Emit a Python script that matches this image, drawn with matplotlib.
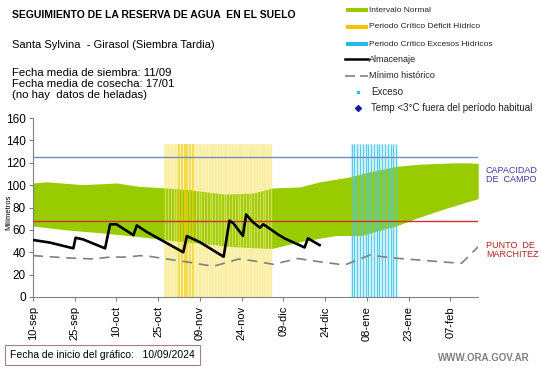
import numpy as np
import matplotlib
matplotlib.use("Agg")
import matplotlib.pyplot as plt
from matplotlib.patches import Rectangle
from matplotlib.lines import Line2D

plt.rcParams['font.family'] = ['Liberation Sans', 'DejaVu Sans']

# days since 10/09/2024
band_days = [0, 5, 18, 30, 38, 48, 56, 69, 79, 86, 96, 103, 114, 121, 131, 139, 151, 157, 160]
band_hi = [102, 103, 100.5, 102, 99, 97.5, 96, 92, 93, 97.5, 98.5, 103, 107.5, 112, 117, 118.8, 120, 120, 119.5]
low_days = [0, 12, 24, 38, 48, 60, 72, 84, 86, 97, 109, 118, 125, 131, 139, 148, 160]
band_lo = [63.5, 60, 57.5, 54, 51, 48, 45, 43.5, 43.5, 50, 55, 55, 60, 64, 71.5, 79, 88]

alm_days = [0, 6, 14.5, 15.3, 18, 25.9, 27.7, 30, 36.1, 37.3, 41, 54, 55.3, 60, 68.5, 70.6, 72, 75.4, 76.6, 79, 81.5, 82.8, 86, 88, 90.4, 97.6, 98.8, 103]
alm_vals = [51, 48.7, 43.5, 53, 51.5, 43.5, 65, 65, 55.3, 64, 58, 40, 54.5, 49, 36, 68.3, 66, 54.7, 73.8, 67, 62, 65, 59.5, 56, 52.4, 44.3, 52.4, 46.4]

min_days = [0, 12, 21.6, 27.7, 34, 38.5, 42, 48, 55, 64.8, 74, 79, 86.4, 95, 103, 112, 121, 129, 139, 150, 154, 160]
min_vals = [37, 35, 34, 35.7, 35.7, 37, 36.3, 34, 31.5, 27.4, 34, 32.4, 29.2, 34.4, 31.5, 28.6, 37.5, 35, 33, 30.8, 30.2, 45]

tick_days = [0, 15, 30, 45, 60, 75, 90, 105, 120, 135, 150]
tick_labels = ['10-sep', '25-sep', '10-oct', '25-oct', '09-nov', '24-nov', '09-dic', '24-dic', '08-ene', '23-ene', '07-feb']

deficit_start, deficit_end = 47, 86
deficit_peak = (52, 57.5)
exceso_start, exceso_end = 114, 131
capacidad_campo = 125
punto_marchitez = 68

fig = plt.figure(figsize=(5.41, 3.68), dpi=100)
ax = fig.add_axes([0.061, 0.193, 0.823, 0.486])

# green normal interval
grid = np.arange(0, 160.5, 0.5)
hi = np.interp(grid, band_days, band_hi)
lo = np.interp(grid, low_days, band_lo)
ax.fill_between(grid, lo, hi, color='#99cc00', lw=0, zorder=1)

# critical periods: pale background behind the band, stripes over it
ax.axvspan(deficit_start, deficit_end, ymax=137 / 160, color='#fbf3b8', lw=0, zorder=0.5)
for d in np.arange(deficit_start, deficit_end, 1.0):
    if deficit_peak[0] <= d <= deficit_peak[1]:
        ax.vlines(d + 0.5, 0, 137, color='#f0d020', lw=1.3, alpha=0.75, zorder=2)
    else:
        ax.vlines(d + 0.5, 0, 137, color='#f8ea90', lw=1.0, alpha=0.6, zorder=2)
ax.axvspan(exceso_start, exceso_end, ymax=137 / 160, color='#e0f7fc', lw=0, zorder=0.5)
for d in np.arange(exceso_start, exceso_end, 1.0):
    ax.vlines(d + 0.5, 0, 137, color='#4cc8ea', lw=0.9, alpha=0.9, zorder=2)

ax.axhline(capacidad_campo, color='#7090c0', lw=1.0, zorder=3)
ax.axhline(punto_marchitez, color='#d03030', lw=1.0, zorder=3)

ax.plot(alm_days, alm_vals, color='black', lw=1.9, zorder=5)
ax.plot(min_days, min_vals, color='#808080', lw=1.2, dashes=(6, 4), zorder=4)

ax.set_xlim(0, 160)
ax.set_ylim(0, 160)
ax.set_yticks(range(0, 161, 20))
ax.set_xticks(tick_days)
ax.set_xticklabels(tick_labels, rotation=90, fontsize=8)
ax.tick_params(axis='y', labelsize=8.5, length=3, color='#808080', pad=2)
ax.tick_params(axis='x', length=3, color='#808080')
for s in ['top', 'right']:
    ax.spines[s].set_visible(False)
for s in ['left', 'bottom']:
    ax.spines[s].set_color('#808080')
fig.text(9 / 541, 1 - 212 / 368, 'Milímetros', fontsize=5.5, rotation=90,
         va='center', ha='center')

fig.text(486 / 541, 1 - 175 / 368, 'CAPACIDAD\nDE  CAMPO', color='#3a3a9a', fontsize=6.5,
         va='center', ha='left', linespacing=1.1)
fig.text(486 / 541, 1 - 250 / 368, 'PUNTO  DE\nMARCHITEZ', color='#b02020', fontsize=6.5,
         va='center', ha='left', linespacing=1.1)

# header texts
fig.text(12 / 541, 1 - 15 / 368, 'SEGUIMIENTO DE LA RESERVA DE AGUA  EN EL SUELO',
         fontsize=7.5, fontweight='bold', va='center', ha='left')
fig.text(12 / 541, 1 - 45 / 368, 'Santa Sylvina  - Girasol (Siembra Tardia)', fontsize=8,
         va='center', ha='left')
fig.text(12 / 541, 1 - 84 / 368,
         'Fecha media de siembra: 11/09\nFecha media de cosecha: 17/01\n(no hay  datos de heladas)',
         fontsize=8.2, va='center', ha='left', linespacing=1.15)

# legend drawn in figure coords
leg = [
    ('patch', '#99cc00', 'Intervalo Normal', 10, 6),
    ('patch', '#f5c400', 'Periodo Crítico Déficit Hídrico', 27, 6),
    ('patch', '#22bbee', 'Periodo Crítico Excesos Hídricos', 44, 6),
    ('line', 'black', 'Almacenaje', 59, 6.5),
    ('dash', '#808080', 'Mínimo histórico', 76, 6.5),
    ('dot', '#33bbdd', 'Exceso', 92, 7),
    ('diamond', '#1a1aa0', 'Temp <3°C fuera del período habitual', 108, 7),
]
for kind, col, label, ypx, fs in leg:
    yf = 1 - ypx / 368
    tx = 369
    if kind == 'patch':
        fig.patches.append(Rectangle((346 / 541, yf - 2 / 368), 22 / 541, 4 / 368,
                                     transform=fig.transFigure, color=col, lw=0))
    elif kind == 'line':
        fig.lines.append(Line2D([345 / 541, 368 / 541], [yf, yf], transform=fig.transFigure,
                                color=col, lw=1.8))
    elif kind == 'dash':
        fig.lines.append(Line2D([345 / 541, 368 / 541], [yf, yf], transform=fig.transFigure,
                                color=col, lw=1.2, dashes=(6, 3)))
    elif kind == 'dot':
        fig.lines.append(Line2D([358 / 541], [yf], transform=fig.transFigure, marker='s',
                                ms=2, color=col, lw=0))
        tx = 371
    else:
        fig.lines.append(Line2D([358 / 541], [yf], transform=fig.transFigure, marker='D',
                                ms=3, color=col, lw=0))
        tx = 371
    fig.text(tx / 541, yf, label, fontsize=fs, va='center', ha='left', color='#222222')

# footer
fig.text(10 / 541, 1 - 355 / 368, 'Fecha de inicio del gráfico:   10/09/2024', fontsize=7.5,
         va='center', ha='left',
         bbox=dict(boxstyle='square,pad=0.5', fc='white', ec='#a08080', lw=0.8))
fig.text(530 / 541, 1 - 358 / 368, 'WWW.ORA.GOV.AR', fontsize=7, fontweight='bold',
         color='#808080', va='center', ha='right')

fig.savefig('out.png', dpi=100)
